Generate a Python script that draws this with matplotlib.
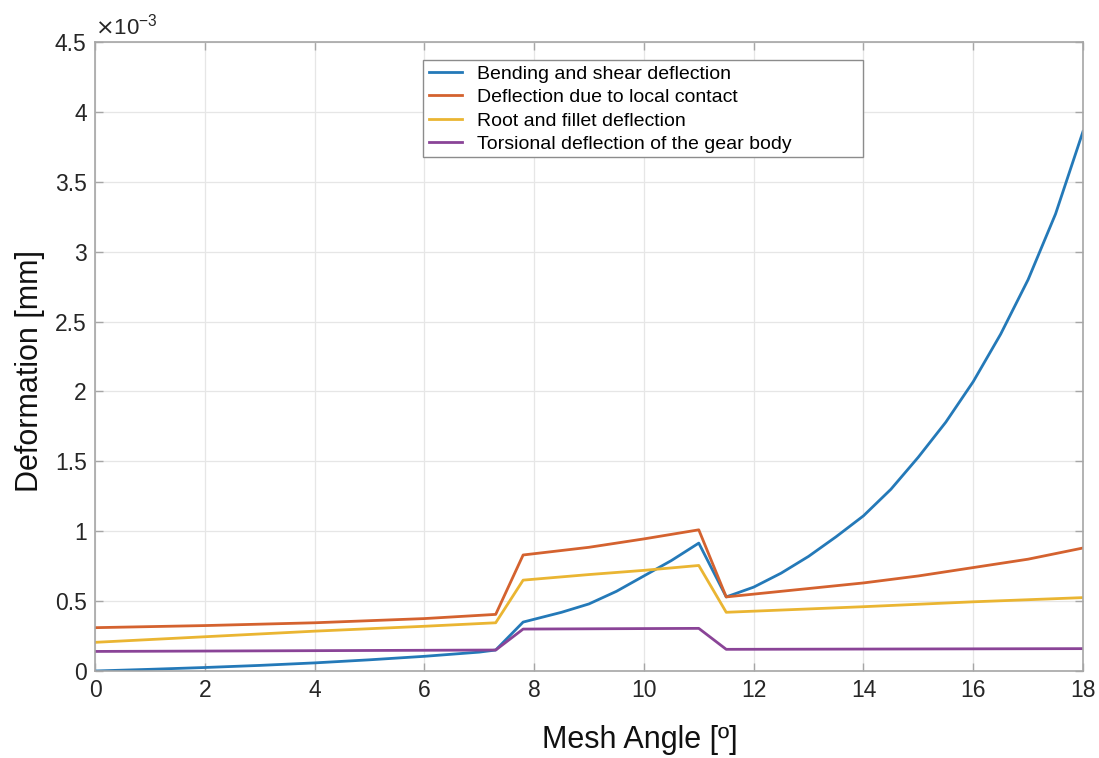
import matplotlib
matplotlib.use("Agg")
import matplotlib.pyplot as plt
from matplotlib.patches import Rectangle
import numpy as np

plt.rcParams['font.family'] = ['Liberation Sans', 'DejaVu Sans']

# Data (deformation in units of 1e-3 mm)
x_bend = [0, 1, 2, 3, 4, 5, 6, 7, 7.3, 7.8, 8.5, 9, 9.5, 10, 10.5, 11, 11.5,
          12, 12.5, 13, 13.5, 14, 14.5, 15, 15.5, 16, 16.5, 17, 17.5, 18]
y_bend = [0.0, 0.012, 0.025, 0.04, 0.058, 0.08, 0.105, 0.135, 0.15, 0.35, 0.42, 0.48,
          0.57, 0.68, 0.79, 0.915, 0.53, 0.60, 0.70, 0.82, 0.96, 1.11, 1.30, 1.53,
          1.78, 2.07, 2.41, 2.80, 3.27, 3.86]

x_contact = [0, 2, 4, 6, 7.3, 7.8, 9, 10, 11, 11.5, 12, 13, 14, 15, 16, 17, 18]
y_contact = [0.31, 0.325, 0.345, 0.375, 0.405, 0.83, 0.885, 0.945, 1.01, 0.53,
             0.55, 0.59, 0.63, 0.68, 0.74, 0.80, 0.88]

x_root = [0, 2, 4, 6, 7.3, 7.8, 9, 10, 11, 11.5, 14, 16, 18]
y_root = [0.205, 0.245, 0.285, 0.32, 0.345, 0.65, 0.69, 0.72, 0.755, 0.42, 0.46,
          0.495, 0.525]

x_tors = [0, 7.3, 7.8, 11, 11.5, 18]
y_tors = [0.14, 0.15, 0.30, 0.305, 0.155, 0.16]

labels = ["Bending and shear deflection", "Deflection due to local contact",
          "Root and fillet deflection", "Torsional deflection of the gear body"]
colors = ["#2479b8", "#d4622f", "#eab532", "#8a4497"]

xticks = list(range(0, 19, 2))
yticks = [0, 0.5, 1, 1.5, 2, 2.5, 3, 3.5, 4, 4.5]
ytick_labels = ["0", "0.5", "1", "1.5", "2", "2.5", "3", "3.5", "4", "4.5"]

W, H = 1099, 758
fig = plt.figure(figsize=(W/100, H/100), dpi=100)
ax = fig.add_axes([95/W, 1-671/H, 988/W, 629/H])

series = [(x_bend, y_bend), (x_contact, y_contact), (x_root, y_root), (x_tors, y_tors)]
for (xs, ys), lab, c in zip(series, labels, colors):
    ax.plot(xs, ys, color=c, lw=2.0, label=lab)

ax.set_xlim(0, 18)
ax.set_ylim(0, 4.5)
ax.set_xticks(xticks)
ax.set_yticks(yticks)
ax.set_yticklabels(ytick_labels)
ax.grid(True, color="#e6e6e6", lw=0.9)
ax.set_axisbelow(True)
for s in ax.spines.values():
    s.set_color("#a6a6a6")
    s.set_linewidth(1.2)
ax.tick_params(direction="in", top=True, right=True, length=6, width=1.0,
               colors="#a6a6a6", labelcolor="#262626", labelsize=16.5, pad=6)

ax.text(0.0, 1.004, r"$\times$10$^{\mathregular{-3}}$", transform=ax.transAxes,
        fontsize=16, color="#262626", ha="left", va="bottom")

fig.text(640/W, 1-740/H, "Mesh Angle [º]", fontsize=22, ha="center",
         va="center", color="#111111")
fig.text(30/W, 1-371/H, "Deformation [mm]", fontsize=22, ha="center",
         va="center", rotation=90, color="#111111")

# legend box (drawn separately to match the wide frame)
fig.patches.append(Rectangle((423/W, 1-157/H), 440/W, 97/H, transform=fig.transFigure,
                             facecolor="white", edgecolor="#8c8c8c", lw=1.0, zorder=5))
leg = ax.legend(loc="upper left", bbox_to_anchor=(429/W, 1-65/H),
                bbox_transform=fig.transFigure,
                fontsize=14, frameon=False,
                handlelength=1.7, handletextpad=0.75, labelspacing=0.3,
                borderpad=0.0, borderaxespad=0)
leg.set_zorder(6)
fig.legends.append(leg)
ax.get_legend().remove()

fig.savefig("out.png", dpi=100)
